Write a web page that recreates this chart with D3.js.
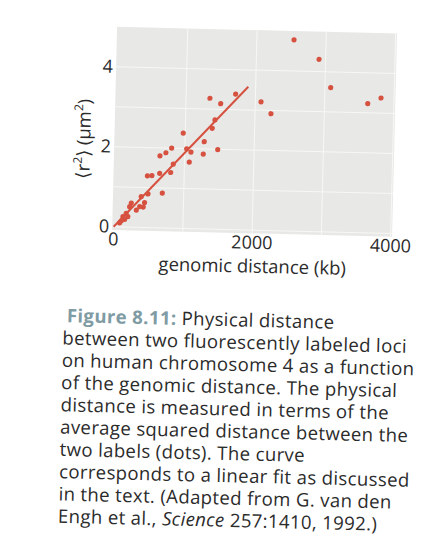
<!DOCTYPE html>
<html>
<head>
<meta charset="utf-8">
<script src="https://cdn.jsdelivr.net/npm/d3@7"></script>
<style>
  body { margin: 0; background: #fff; }
  text { font-family: "Open Sans", "Noto Sans", sans-serif; fill: #2b2b2b; }
</style>
</head>
<body>
<svg id="fig" width="446" height="546"></svg>
<script>
// genomic distance (kb) and mean squared physical distance <r^2> (um^2)
const genomicKb = [2537, 2905, 3083, 2083, 2231, 3623, 3813,
  1345, 1502, 1714, 1425, 1389, 972, 1278, 810, 729, 644, 1027, 1090, 1268, 1475, 1069, 839,
  470, 535, 646, 805, 691, 485, 388, 438, 369, 247, 225, 322, 177, 131, 157, 108, 85, 202, 421];
const r2 = [4.78, 4.31, 3.61, 3.21, 2.92, 3.23, 3.38,
  3.27, 3.14, 3.39, 2.73, 2.52, 2.38, 2.18, 2.00, 1.88, 1.80, 1.99, 1.91, 1.87, 1.99, 1.66, 1.60,
  1.29, 1.30, 1.36, 1.39, 0.87, 0.84, 0.77, 0.62, 0.52, 0.60, 0.51, 0.43, 0.34, 0.26, 0.19, 0.15, 0.10, 0.26, 0.51];
const xTicks = [0, 2000, 4000];
const yTicks = [0, 2, 4];
const xGrid = [1000, 2000, 3000, 4000];
const yGrid = [0, 1, 2, 3, 4];
const fitKb = [0, 1894];
const fitR2 = [0, 3.58];

const captionLines = [
  "between two fluorescently labeled loci",
  "on human chromosome 4 as a function",
  "of the genomic distance. The physical",
  "distance is measured in terms of the",
  "average squared distance between the",
  "two labels (dots). The curve",
  "corresponds to a linear fit as discussed",
  "in the text. (Adapted from G. van den"
];

const red = "#d6513f";
const svg = d3.select("#fig");
// the page was scanned slightly tilted
const g = svg.append("g").attr("transform", "rotate(1.4,223,273)");

const x = d3.scaleLinear().domain([0, 4000]).range([112.5, 389.7]);
const y = d3.scaleLinear().domain([0, 4]).range([229.4, 69.4]);

// plot background
g.append("rect")
  .attr("x", x(-20)).attr("y", y(5.0))
  .attr("width", x(4020) - x(-20)).attr("height", y(-0.08) - y(5.0))
  .attr("fill", "#e8e8e6");

// grid
g.selectAll(".gx").data(xGrid).join("line")
  .attr("x1", d => x(d)).attr("x2", d => x(d))
  .attr("y1", y(5.0)).attr("y2", y(-0.08))
  .attr("stroke", "#f7f7f5").attr("stroke-width", 1);
g.selectAll(".gy").data(yGrid).join("line")
  .attr("x1", x(-20)).attr("x2", x(4020))
  .attr("y1", d => y(d)).attr("y2", d => y(d))
  .attr("stroke", "#f7f7f5").attr("stroke-width", 1);

// linear fit
g.append("line")
  .attr("x1", x(fitKb[0])).attr("y1", y(fitR2[0]))
  .attr("x2", x(fitKb[1])).attr("y2", y(fitR2[1]))
  .attr("stroke", red).attr("stroke-width", 2);

// dots
g.selectAll("circle").data(genomicKb).join("circle")
  .attr("cx", d => x(d))
  .attr("cy", (d, i) => y(r2[i]))
  .attr("r", 2.6)
  .attr("fill", red);

// tick labels
g.selectAll(".xt").data(xTicks).join("text")
  .attr("x", d => x(d)).attr("y", 248)
  .attr("text-anchor", "middle").attr("font-size", 18)
  .text(d => d);
g.selectAll(".yt").data(yTicks).join("text")
  .attr("x", 108).attr("y", d => y(d) + 6)
  .attr("text-anchor", "end").attr("font-size", 18)
  .text(d => d);

// axis titles
g.append("text")
  .attr("x", 252).attr("y", 272)
  .attr("text-anchor", "middle").attr("font-size", 18.5)
  .text("genomic distance (kb)");
const yt = g.append("text")
  .attr("transform", "translate(87,142) rotate(-90)")
  .attr("text-anchor", "middle").attr("font-size", 18.5);
yt.append("tspan").text("\u27E8r");
yt.append("tspan").attr("baseline-shift", "super").attr("font-size", 12).text("2");
yt.append("tspan").text("\u27E9 (\u00B5m");
yt.append("tspan").attr("baseline-shift", "super").attr("font-size", 12).text("2");
yt.append("tspan").text(")");

// caption
const lineGap = 22.3;
const cap = g.append("g").attr("font-size", 18.6).attr("letter-spacing", 0.35);
const first = cap.append("text").attr("x", 68).attr("y", 326);
first.append("tspan").attr("font-weight", "bold").attr("fill", "#7f9ba4").text("Figure 8.11:");
first.append("tspan").text(" Physical distance");
cap.selectAll(".cl").data(captionLines).join("text")
  .attr("x", 64).attr("y", (d, i) => 326 + (i + 1) * lineGap)
  .text(d => d);
const last = cap.append("text").attr("x", 64).attr("y", 326 + (captionLines.length + 1) * lineGap);
last.append("tspan").text("Engh et al., ");
last.append("tspan").attr("font-style", "italic").text("Science");
last.append("tspan").text(" 257:1410, 1992.)");
</script>
</body>
</html>
